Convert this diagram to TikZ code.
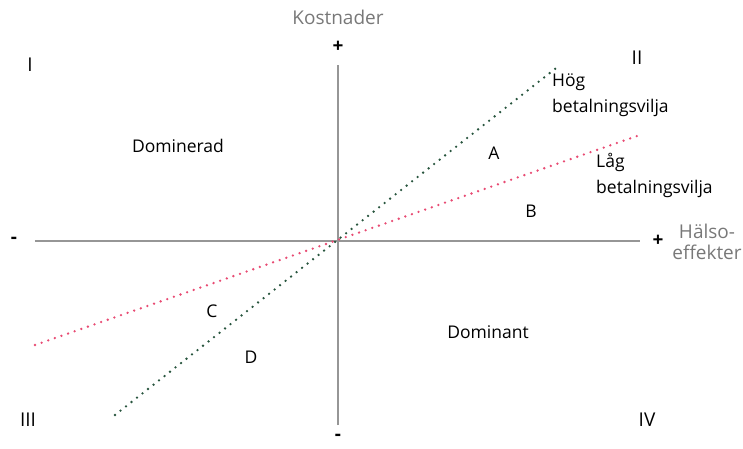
\documentclass[tikz,border=0pt]{standalone}
\usepackage{fontspec}
\setmainfont{Open Sans}
\usetikzlibrary{calc}

\definecolor{axisgray}{RGB}{150,150,150}
\definecolor{labelgray}{RGB}{120,120,120}
\definecolor{hoggreen}{RGB}{40,85,62}
\definecolor{lagpink}{RGB}{232,75,115}

\begin{document}
\begin{tikzpicture}[x=1pt,y=1pt,font=\fontsize{17.5}{20}\selectfont,
  axis/.style={axisgray,line width=1.2pt},
  wtpline/.style={line width=2.6pt,line cap=round,dash pattern=on 0pt off 7pt},
  graylabel/.style={labelgray,font=\fontsize{19}{21}\selectfont},
  wtplabel/.style={align=left,anchor=north west,inner sep=0pt,font=\fontsize{17.5}{26}\selectfont},
  sign/.style={font=\fontsize{19}{20}\selectfont\bfseries},
  quad/.style={font=\fontsize{19}{20}\selectfont}]
\useasboundingbox (-338,-208) rectangle (405,241);

\coordinate (O) at (0,0);
\coordinate (ytop) at (0,176);
\coordinate (ybot) at (0,-184);
\coordinate (xleft) at (-303,0);
\coordinate (xright) at (302,0);

% axlar
\draw[axis] (ybot) -- (ytop);
\draw[axis] (xleft) -- (xright);

\node[graylabel] (kost) at (0,224) {Kostnader};
\node[sign] (yplus) at (0,194) {+};
\node[sign] (yminus) at (0,-196) {-};
\node[sign] (xminus) at (-324,1) {-};
\node[sign] (xplus) at (320,0) {+};
\node[graylabel,align=center] (halsa) at (369,-1) {Hälso-\\effekter};

% betalningsvilja
\coordinate (hog1) at (-223,-174);
\coordinate (hog2) at (222,176);
\coordinate (lag1) at (-303,-104);
\coordinate (lag2) at (302,106);
\draw[wtpline,lagpink] (lag1) -- (lag2);
\draw[wtpline,hoggreen] (hog1) -- (hog2);

\node[wtplabel] (hog) at (214,167) {Hög\\betalningsvilja};
\node[wtplabel] (lag) at (258,88) {Låg\\betalningsvilja};

% kvadranter
\node[quad] (q1) at (-308,176) {I};
\node[quad] (q2) at (299,183) {II};
\node[quad] (q3) at (-310,-179) {III};
\node[quad] (q4) at (309,-179) {IV};

\node (dominerad) at (-160,95) {Dominerad};
\node (dominant) at (150,-91) {Dominant};

\node (A) at (156,88) {A};
\node (B) at (193,30) {B};
\node (C) at (-126,-70) {C};
\node (D) at (-87,-116) {D};
\end{tikzpicture}
\end{document}
